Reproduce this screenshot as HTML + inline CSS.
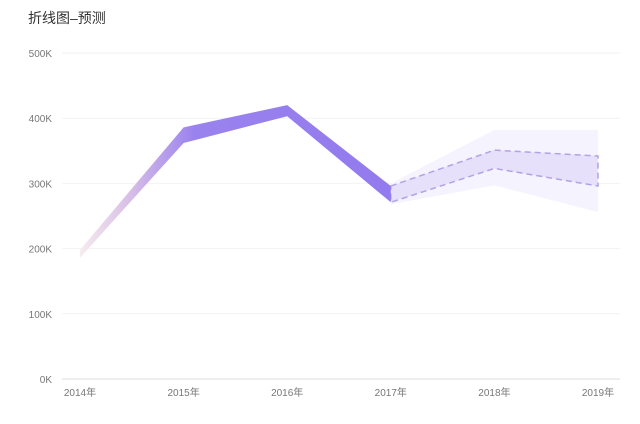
<!DOCTYPE html>
<html><head><meta charset="utf-8"><style>
body{margin:0;background:#fff;width:640px;height:419px;overflow:hidden;font-family:"Liberation Sans","Noto Sans CJK SC",sans-serif}
</style></head><body>
<svg id="c" width="640" height="419">
<defs>
<linearGradient id="g1" x1="80" y1="0" x2="600" y2="0" gradientUnits="userSpaceOnUse">
<stop offset="0" stop-color="#f6ecef"/><stop offset="0.1" stop-color="#d6bce6"/><stop offset="0.22" stop-color="#9a82ee"/><stop offset="1" stop-color="#8b72ee"/>
</linearGradient>
</defs>
<text x="28" y="23" font-size="14" fill="#333">折线图–预测</text>
<g id="grid"></g><g id="marks"></g><g id="labels"></g>
</svg>
<script>
const years=['2014年','2015年','2016年','2017年','2018年','2019年'];
const yTicks=[0,100,200,300,400,500];
const upper=[198,386,420,296,351,342];
const lower=[186,362,403,271,323,296];
const outerUpper=[300,382,382];
const outerLower=[268,297,256];
const forecastStart=3;
const NS='http://www.w3.org/2000/svg';
const X=i=>80+i*103.6, Y=v=>379-v*0.652;
function el(t,a,p){const e=document.createElementNS(NS,t);for(const k in a)e.setAttribute(k,a[k]);p.appendChild(e);return e;}
const grid=document.getElementById('grid'),marks=document.getElementById('marks'),labels=document.getElementById('labels');
yTicks.forEach(v=>{
 const l=el('line',{x1:62,x2:620,y1:Y(v),y2:Y(v),stroke:v===0?'#ddd':'#f2f2f2'},grid);
 
 
 const t=el('text',{x:52,y:Y(v)+4,'text-anchor':'end','font-size':10,fill:'#777'},labels);t.textContent=v+'K';
 
 
});
years.forEach((y,i)=>{
 const t=el('text',{x:X(i),y:396,'text-anchor':'middle','font-size':10,fill:'#777'},labels);t.textContent=y;
 
 
});
function band(u,l,off){let d='';u.forEach((v,i)=>d+=(i?'L':'M')+X(i+off)+','+Y(v));for(let i=l.length-1;i>=0;i--)d+='L'+X(i+off)+','+Y(l[i]);return d+'Z';}
const ob=el('path',{d:band(outerUpper,outerLower,forecastStart),fill:'#f5f3fe'},marks);


const fu=upper.slice(forecastStart),fl=lower.slice(forecastStart);
const fb=el('path',{d:band(fu,fl,forecastStart),fill:'#e6e0fb',stroke:'#b2a3e6','stroke-width':1.5,'stroke-dasharray':'6,4'},marks);


const hb=el('path',{d:band(upper.slice(0,forecastStart+1),lower.slice(0,forecastStart+1),0),fill:'url(#g1)'},marks);


</script>
</body></html>
